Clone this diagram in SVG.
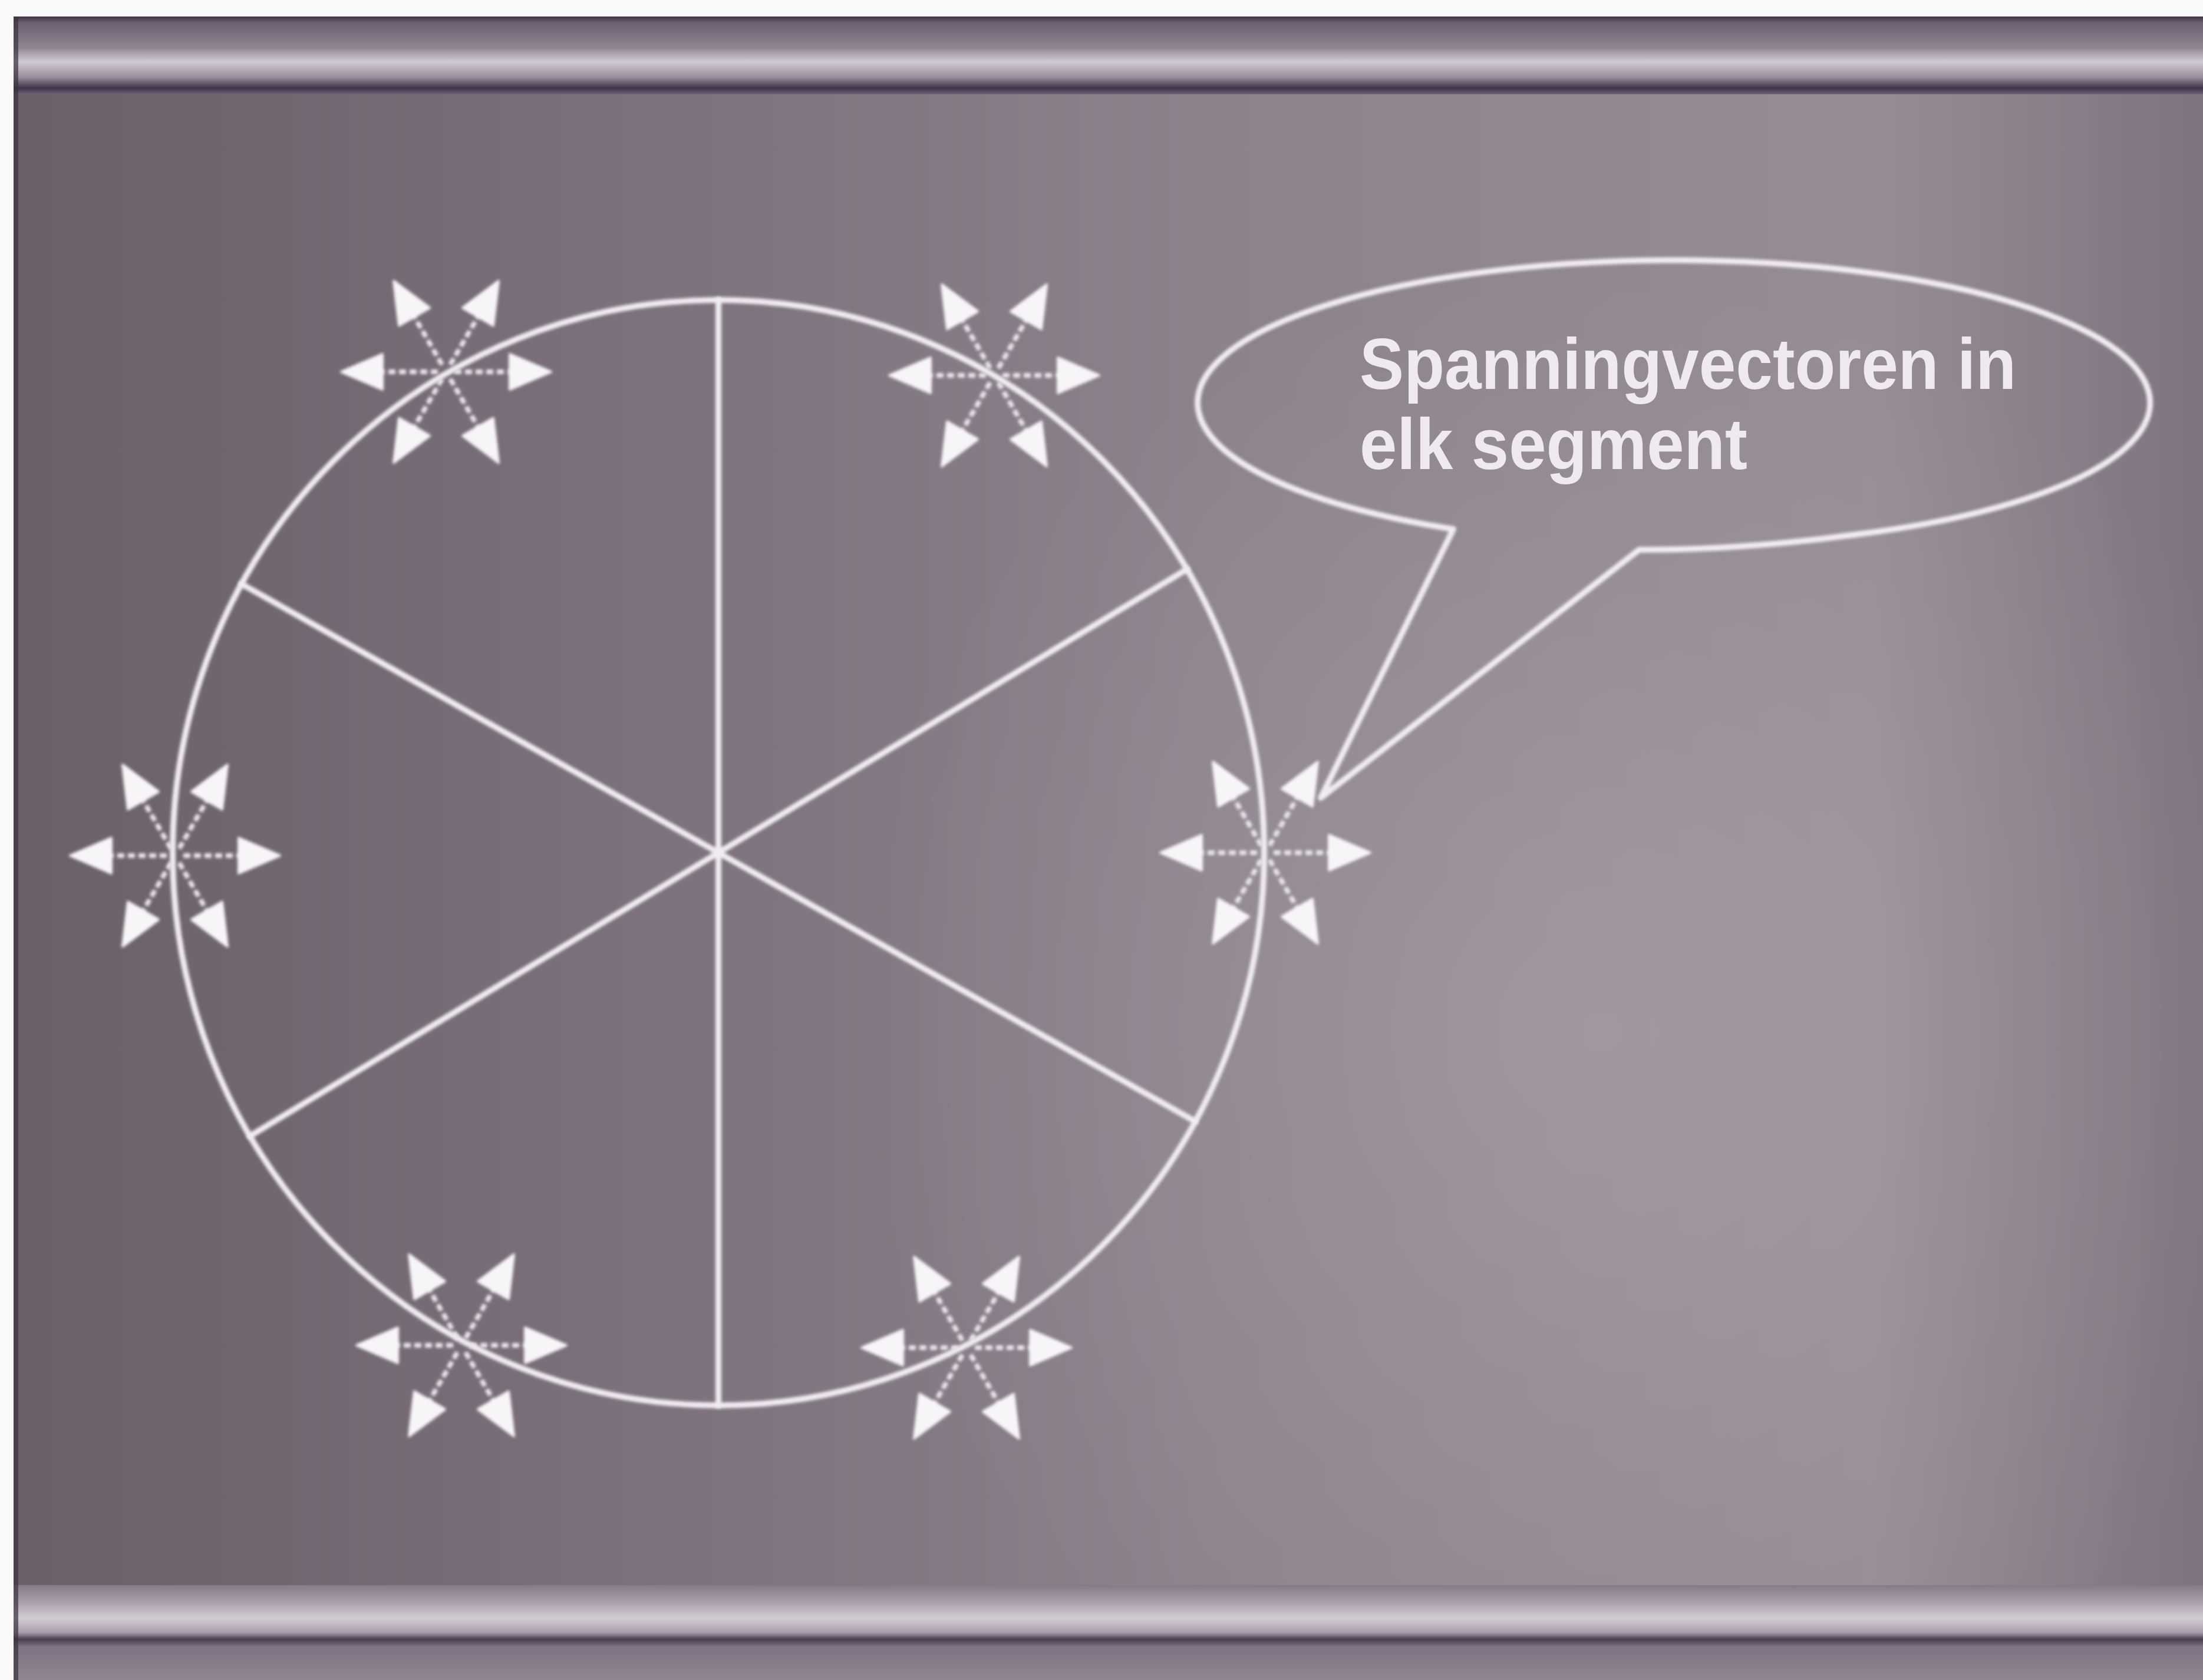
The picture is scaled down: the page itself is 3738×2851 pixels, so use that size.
<svg xmlns="http://www.w3.org/2000/svg" xmlns:xlink="http://www.w3.org/1999/xlink" width="3738" height="2851" viewBox="0 0 3738 2851">
  <style>
    .ln { fill: none; stroke: #f0edf2; stroke-width: 10; stroke-linecap: round; stroke-linejoin: round; }
    .shaft { stroke: #ebe7ee; stroke-width: 8; stroke-dasharray: 12 6; fill: none; }
    .head { fill: #f7f5f8; stroke: #f7f5f8; stroke-width: 4; stroke-linejoin: round; }
    .lbl { font-family: "Liberation Sans", Arial, sans-serif; font-weight: bold; font-size: 122px; fill: #eeeaf0; }
  </style>
  <defs>
    <linearGradient id="bg" x1="0" y1="0" x2="1" y2="0">
      <stop offset="0" stop-color="#6a6069"/>
      <stop offset="0.25" stop-color="#796e79"/>
      <stop offset="0.55" stop-color="#8c828c"/>
      <stop offset="0.85" stop-color="#968c95"/>
      <stop offset="1" stop-color="#7e747f"/>
    </linearGradient>
    <radialGradient id="glow" cx="2700" cy="1750" r="1300" gradientUnits="userSpaceOnUse">
      <stop offset="0" stop-color="#ffffff" stop-opacity="0.13"/>
      <stop offset="1" stop-color="#ffffff" stop-opacity="0"/>
    </radialGradient>
    <linearGradient id="topbar" x1="0" y1="28" x2="0" y2="160" gradientUnits="userSpaceOnUse">
      <stop offset="0" stop-color="#3f3348"/>
      <stop offset="0.08" stop-color="#6a5f70"/>
      <stop offset="0.4" stop-color="#8e8592"/>
      <stop offset="0.58" stop-color="#d2cbd3"/>
      <stop offset="0.78" stop-color="#978d9a"/>
      <stop offset="0.92" stop-color="#3e344a"/>
      <stop offset="1" stop-color="#6e6472"/>
    </linearGradient>
    <linearGradient id="botbar" x1="0" y1="2690" x2="0" y2="2851" gradientUnits="userSpaceOnUse">
      <stop offset="0" stop-color="#857b88"/>
      <stop offset="0.17" stop-color="#a79ea9"/>
      <stop offset="0.35" stop-color="#d3ccd4"/>
      <stop offset="0.5" stop-color="#a69daa"/>
      <stop offset="0.57" stop-color="#4a3f52"/>
      <stop offset="0.65" stop-color="#7d7382"/>
      <stop offset="1" stop-color="#8f8593"/>
    </linearGradient>
    <filter id="soft" x="-10%" y="-10%" width="120%" height="120%">
      <feGaussianBlur stdDeviation="2.5"/>
    </filter>
    <g id="arm">
      <line class="shaft" x1="14" y1="0" x2="118" y2="0"/>
      <polygon class="head" points="178,0 108,-30 108,30"/>
    </g>
    <g id="star">
      <use xlink:href="#arm"/>
      <use xlink:href="#arm" transform="rotate(60)"/>
      <use xlink:href="#arm" transform="rotate(120)"/>
      <use xlink:href="#arm" transform="rotate(180)"/>
      <use xlink:href="#arm" transform="rotate(240)"/>
      <use xlink:href="#arm" transform="rotate(300)"/>
    </g>
  </defs>

  <!-- background -->
  <rect x="0" y="0" width="3738" height="2851" fill="url(#bg)"/>
  <rect x="0" y="0" width="3738" height="2851" fill="url(#glow)"/>
  <rect x="0" y="28" width="3738" height="132" fill="url(#topbar)"/>
  <rect x="0" y="2690" width="3738" height="161" fill="url(#botbar)"/>
  <rect x="0" y="0" width="3738" height="28" fill="#fbfafa"/>
  <rect x="0" y="0" width="23" height="2851" fill="#fbfafa"/>
  <rect x="23" y="28" width="8" height="2823" fill="#3c3340" opacity="0.7"/>

  <!-- circle with segments -->
  <g id="circle" filter="url(#soft)">
    <ellipse class="ln" cx="1219" cy="1447" rx="926" ry="938"/>
  </g>
  <g id="connectors" filter="url(#soft)">
    <line class="ln" x1="1219" y1="509" x2="1219" y2="2385"/>
    <line class="ln" x1="410" y1="991" x2="2028" y2="1903"/>
    <line class="ln" x1="2014" y1="966" x2="424" y2="1928"/>
  </g>

  <!-- stress vector stars -->
  <g id="star-top-left" filter="url(#soft)"><use xlink:href="#star" transform="translate(757,631)"/></g>
  <g id="star-top-right" filter="url(#soft)"><use xlink:href="#star" transform="translate(1687,637)"/></g>
  <g id="star-left" filter="url(#soft)"><use xlink:href="#star" transform="translate(297,1452)"/></g>
  <g id="star-right" filter="url(#soft)"><use xlink:href="#star" transform="translate(2147,1447)"/></g>
  <g id="star-bottom-left" filter="url(#soft)"><use xlink:href="#star" transform="translate(783,2283)"/></g>
  <g id="star-bottom-right" filter="url(#soft)"><use xlink:href="#star" transform="translate(1640,2287)"/></g>

  <!-- callout -->
  <g id="callout">
    <path class="ln" filter="url(#soft)" d="M 2466 898 A 808 242 0 1 1 3150 907 Q 2960 933 2781 933 L 2241 1354 Z"/>
    <text class="lbl" x="2307" y="660" textLength="1114" lengthAdjust="spacingAndGlyphs">Spanningvectoren in</text>
    <text class="lbl" x="2307" y="796" textLength="658" lengthAdjust="spacingAndGlyphs">elk segment</text>
  </g>
</svg>
